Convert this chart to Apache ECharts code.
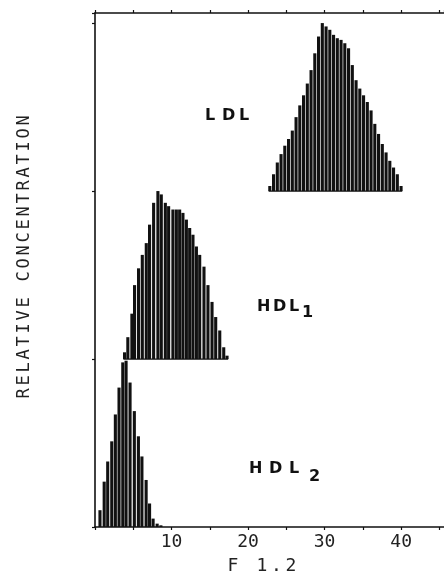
<!DOCTYPE html>
<html>
<head>
<meta charset="utf-8">
<script src="https://cdn.jsdelivr.net/npm/echarts@6/dist/echarts.min.js"></script>
<style>
  html, body { margin: 0; padding: 0; background: #fff; }
  #chart { width: 444px; height: 574px; }
</style>
</head>
<body>
<div id="chart"></div>
<script>
// F 1.2 position of each bar and its relative concentration (1 = one panel)
var hdl2X = [0.65, 1.20, 1.66, 2.19, 2.66, 3.14, 3.63, 4.06, 4.58, 5.14, 5.67, 6.13, 6.68, 7.13, 7.59, 8.12, 8.61];
var hdl2Y = [0.10, 0.27, 0.39, 0.51, 0.67, 0.83, 0.98, 0.99, 0.86, 0.69, 0.54, 0.42, 0.28, 0.14, 0.05, 0.02, 0.01];

var hdl1X = [3.86, 4.29, 4.82, 5.17, 5.69, 6.18, 6.70, 7.13, 7.66, 8.22, 8.66, 9.19, 9.62, 10.18, 10.63,
             11.06, 11.49, 11.94, 12.37, 12.80, 13.25, 13.68, 14.24, 14.76, 15.29, 15.77, 16.30, 16.82, 17.25];
var hdl1Y = [0.04, 0.13, 0.27, 0.44, 0.54, 0.62, 0.69, 0.80, 0.93, 1.00, 0.98, 0.93, 0.91, 0.89, 0.89,
             0.89, 0.87, 0.83, 0.78, 0.74, 0.67, 0.62, 0.55, 0.44, 0.34, 0.25, 0.17, 0.07, 0.02];

var ldlX = [22.84, 23.33, 23.82, 24.31, 24.80, 25.29, 25.78, 26.27, 26.76, 27.25, 27.74, 28.23, 28.72, 29.21, 29.70,
            30.19, 30.68, 31.17, 31.66, 32.15, 32.64, 33.13, 33.62, 34.11, 34.60, 35.09, 35.58, 36.07, 36.56, 37.05,
            37.54, 38.03, 38.52, 39.01, 39.50, 39.99];
var ldlY = [0.03, 0.10, 0.17, 0.22, 0.27, 0.31, 0.36, 0.44, 0.51, 0.57, 0.64, 0.72, 0.82, 0.92, 1.00,
            0.98, 0.96, 0.93, 0.91, 0.90, 0.88, 0.85, 0.75, 0.66, 0.61, 0.57, 0.53, 0.48, 0.40, 0.34,
            0.28, 0.23, 0.18, 0.14, 0.10, 0.03];

// baseline of each distribution on the stacked y axis
var baseHDL2 = 0, baseHDL1 = 1, baseLDL = 2;
var xLabelTicks = [10, 20, 30, 40];

var BAR_W = 3.1;
var INK = '#111';

function pairs(xs, ys) {
  return xs.map(function (x, i) { return [x, ys[i]]; });
}

// wrap every char in a fixed-width rich token (plotter-style letter spacing)
function spaced(str, tok) {
  return str.split('').map(function (c) { return '{' + tok + '|' + c + '}'; }).join('');
}

// bars drawn from a panel baseline up
function barRender(base) {
  return function (params, api) {
    var x = api.value(0);
    var p0 = api.coord([x, base]);
    var p1 = api.coord([x, base + api.value(1)]);
    return {
      type: 'rect',
      shape: { x: p0[0] - BAR_W / 2, y: p1[1], width: BAR_W, height: p0[1] - p1[1] },
      style: { fill: INK }
    };
  };
}

function baseLine(xs, base) {
  return {
    type: 'line',
    data: [[xs[0] - 0.15, base], [xs[xs.length - 1] + 0.15, base]],
    symbol: 'none',
    lineStyle: { color: INK, width: 1.3 },
    silent: true,
    animation: false
  };
}

var axisLineStyle = { color: INK, width: 1.6 };
var labelFont = { fontFamily: 'DejaVu Sans', fontWeight: 'bold', fontSize: 16, fill: INK };

var chart = echarts.init(document.getElementById('chart'));

var option = {
  animation: false,
  backgroundColor: '#fff',
  grid: { left: 95, right: 0, top: 13, bottom: 47, containLabel: false, outerBoundsMode: 'none' },
  xAxis: [
    {
      type: 'value', position: 'bottom', min: 0, max: 45.6, interval: 5,
      axisLine: { show: true, onZero: false, lineStyle: axisLineStyle },
      axisTick: { show: true, length: 3, lineStyle: { color: INK, width: 1.2 } },
      splitLine: { show: false },
      axisLabel: {
        showMaxLabel: false,
        formatter: function (v) { return xLabelTicks.indexOf(v) >= 0 ? String(v) : ''; },
        fontFamily: 'DejaVu Sans Mono', fontSize: 18, color: '#222', margin: 6
      }
    },
    {
      type: 'value', position: 'top', min: 0, max: 45.6, interval: 5,
      axisLine: { show: true, onZero: false, lineStyle: axisLineStyle },
      axisTick: { show: true, length: 3, lineStyle: { color: INK, width: 1.2 } },
      splitLine: { show: false },
      axisLabel: { show: false }
    }
  ],
  yAxis: {
    type: 'value', min: 0, max: 3.06, interval: 1,
    axisLine: { show: true, onZero: false, lineStyle: axisLineStyle },
    axisTick: { show: true, length: 3, lineStyle: { color: INK, width: 1.2 } },
    axisLabel: { show: false },
    splitLine: { show: false }
  },
  series: [
    { type: 'custom', name: 'HDL2', renderItem: barRender(baseHDL2), encode: { x: 0, y: 1 }, clip: false, data: pairs(hdl2X, hdl2Y) },
    { type: 'custom', name: 'HDL1', renderItem: barRender(baseHDL1), encode: { x: 0, y: 1 }, clip: false, data: pairs(hdl1X, hdl1Y) },
    { type: 'custom', name: 'LDL', renderItem: barRender(baseLDL), encode: { x: 0, y: 1 }, clip: false, data: pairs(ldlX, ldlY) },
    baseLine(hdl1X, baseHDL1),
    baseLine(ldlX, baseLDL)
  ],
  graphic: [
    {
      type: 'text', x: 25, y: 257, rotation: Math.PI / 2,
      style: {
        text: spaced('RELATIVE CONCENTRATION', 'c'),
        rich: { c: { width: 13, align: 'center', fontFamily: 'DejaVu Sans Mono', fontSize: 17, fill: '#222' } },
        align: 'center', verticalAlign: 'middle', fill: '#222'
      }
    },
    {
      type: 'text', x: 262, y: 566,
      style: {
        text: spaced('F 1.2', 'c'),
        rich: { c: { width: 14.5, align: 'center', fontFamily: 'DejaVu Sans Mono', fontSize: 18, fill: '#222' } },
        align: 'center', verticalAlign: 'middle', fill: '#222'
      }
    },
    {
      type: 'text', x: 205, y: 116,
      style: {
        text: spaced('LDL', 'b'),
        rich: { b: Object.assign({ width: 17 }, labelFont) },
        align: 'left', verticalAlign: 'middle', fill: INK
      }
    },
    {
      type: 'text', x: 257, y: 307,
      style: {
        text: spaced('HDL', 'b'),
        rich: { b: Object.assign({ width: 16 }, labelFont) },
        align: 'left', verticalAlign: 'middle', fill: INK
      }
    },
    {
      type: 'text', x: 302, y: 313,
      style: Object.assign({ text: '1', align: 'left', verticalAlign: 'middle' }, labelFont)
    },
    {
      type: 'text', x: 249, y: 469,
      style: {
        text: spaced('HDL', 'b'),
        rich: { b: Object.assign({ width: 20 }, labelFont) },
        align: 'left', verticalAlign: 'middle', fill: INK
      }
    },
    {
      type: 'text', x: 309, y: 477,
      style: Object.assign({ text: '2', align: 'left', verticalAlign: 'middle' }, labelFont)
    }
  ]
};

chart.setOption(option);
</script>
</body>
</html>
